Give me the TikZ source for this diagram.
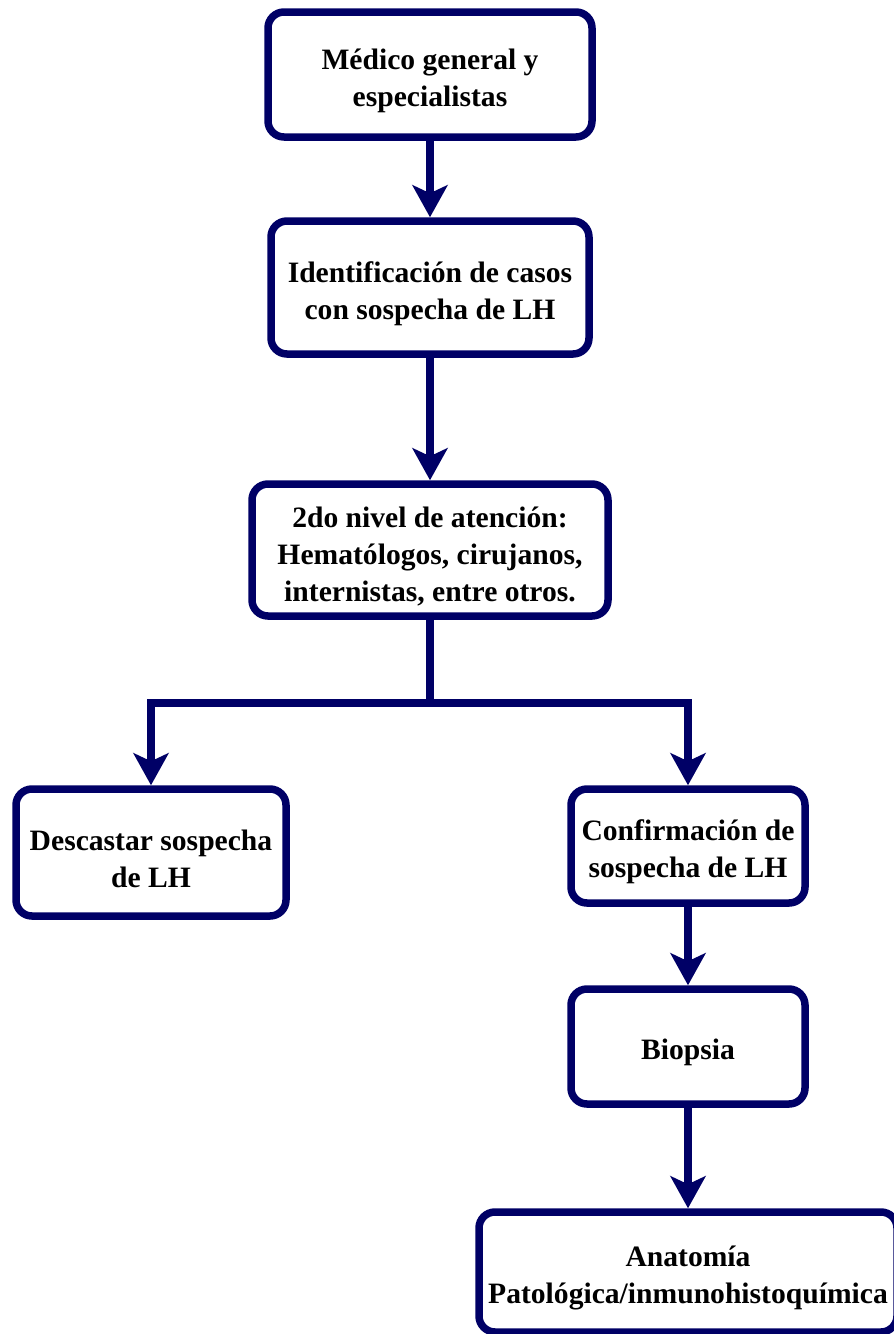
\documentclass[tikz,border=0pt]{standalone}
\usepackage{fontspec}
\setmainfont{Liberation Serif}
\usetikzlibrary{arrows.meta}
\definecolor{navy}{RGB}{0,0,102}
\tikzset{
  box/.style={draw=navy, line width=7.5pt, rounded corners=16pt, fill=white,
    inner sep=0pt},
  txt/.style={align=center, inner sep=0pt, yshift=-6pt,
    font=\fontsize{29.6}{37}\selectfont\bfseries},
  conn/.style={draw=navy, line width=7.5pt},
  arr/.style={conn, -{Stealth[length=32pt,width=35pt,inset=8pt]}}
}
\begin{document}
\begin{tikzpicture}[x=1pt,y=-1pt]
\useasboundingbox (0,0) rectangle (894,1334);
\clip (0,0) rectangle (894,1334);
\node[box, minimum width=324pt, minimum height=125pt,
  label={[txt]center:Médico general y\\especialistas}] (b1) at (430,74.5) {};
\node[box, minimum width=318pt, minimum height=133pt,
  label={[txt]center:Identificación de casos\\con sospecha de LH}] (b2) at (430,287.5) {};
\node[box, minimum width=356pt, minimum height=132pt,
  label={[txt]center:2do nivel de atención:\\Hematólogos, cirujanos,\\internistas, entre otros.}] (b3) at (430,550) {};
\node[box, minimum width=270pt, minimum height=127pt,
  label={[txt]center:Descastar sospecha\\de LH}] (b4) at (151,852.5) {};
\node[box, minimum width=234pt, minimum height=114pt,
  label={[txt]center:Confirmación de\\sospecha de LH}] (b5) at (688,846) {};
\node[box, minimum width=234pt, minimum height=115pt,
  label={[txt]center:Biopsia}] (b6) at (688,1046.5) {};
\node[box, minimum width=418pt, minimum height=120pt,
  label={[txt]center:Anatomía\\Patológica/inmunohistoquímica}] (b7) at (688,1272) {};
\coordinate (j) at (430,703);
\draw[arr] (b1) -- (b2);
\draw[arr] (b2) -- (b3);
\draw[conn] (b3.south) -- (j);
\draw[arr] (j) -| (b4);
\draw[arr] (j) -| (b5);
\draw[arr] (b5) -- (b6);
\draw[arr] (b6) -- (b7);
\end{tikzpicture}
\end{document}
